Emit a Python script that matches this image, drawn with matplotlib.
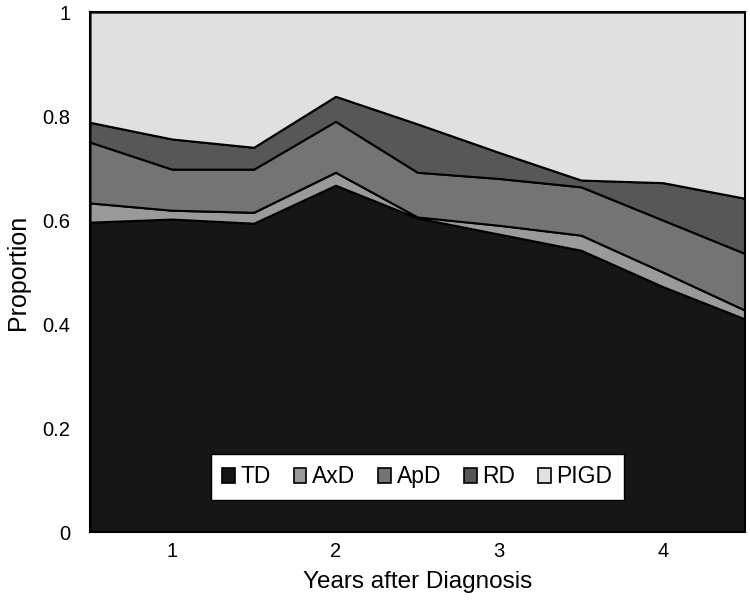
import matplotlib
matplotlib.use("Agg")
import matplotlib.pyplot as plt
from matplotlib.patches import Patch
from matplotlib.ticker import FuncFormatter

plt.rcParams["font.family"] = ["Liberation Sans", "DejaVu Sans"]

years = [0.5, 1.0, 1.5, 2.0, 2.5, 3.0, 3.5, 4.0, 4.5]
td = [0.596, 0.602, 0.594, 0.667, 0.604, 0.573, 0.542, 0.472, 0.410]
axd = [0.037, 0.017, 0.021, 0.025, 0.002, 0.017, 0.029, 0.028, 0.017]
apd = [0.117, 0.079, 0.083, 0.098, 0.086, 0.090, 0.093, 0.100, 0.109]
rd = [0.038, 0.058, 0.042, 0.048, 0.093, 0.050, 0.013, 0.072, 0.106]
pigd = [0.212, 0.244, 0.260, 0.162, 0.215, 0.270, 0.323, 0.328, 0.358]

labels = ["TD", "AxD", "ApD", "RD", "PIGD"]
colors = ["#161616", "#9a9a9a", "#747474", "#575757", "#e0e0e0"]

fig = plt.figure(figsize=(7.5, 6.04), dpi=100)
ax = fig.add_axes([0.12, 0.119, 0.873, 0.861])

ax.stackplot(years, td, axd, apd, rd, pigd, colors=colors,
             edgecolor="black", linewidth=1.5)

ax.set_xlim(0.5, 4.5)
ax.set_ylim(0, 1)
ax.set_xticks([1, 2, 3, 4])
ax.set_yticks([0, 0.2, 0.4, 0.6, 0.8, 1.0])
ax.yaxis.set_major_formatter(FuncFormatter(lambda v, _: f"{v:g}"))
ax.tick_params(axis="both", length=0, labelsize=14.5)
ax.tick_params(axis="y", pad=14)
ax.tick_params(axis="x", pad=7)
for s in ax.spines.values():
    s.set_linewidth(1.5)
    s.set_color("black")

ax.set_xlabel("Years after Diagnosis", fontsize=17.5, labelpad=7)
ax.set_ylabel("Proportion", fontsize=18, labelpad=9)

handles = [Patch(facecolor=c, edgecolor="black", linewidth=1.2) for c in colors]
leg = ax.legend(handles, labels, loc="lower center", bbox_to_anchor=(0.5, 0.062),
                borderaxespad=0, ncol=5, fontsize=16.5, frameon=True, fancybox=False,
                handlelength=0.55, handleheight=0.6, handletextpad=0.25,
                columnspacing=1.0, borderpad=0.5)
leg.get_frame().set_edgecolor("black")
leg.get_frame().set_linewidth(1.0)
leg.get_frame().set_alpha(1)

fig.savefig("out.png", dpi=100)
